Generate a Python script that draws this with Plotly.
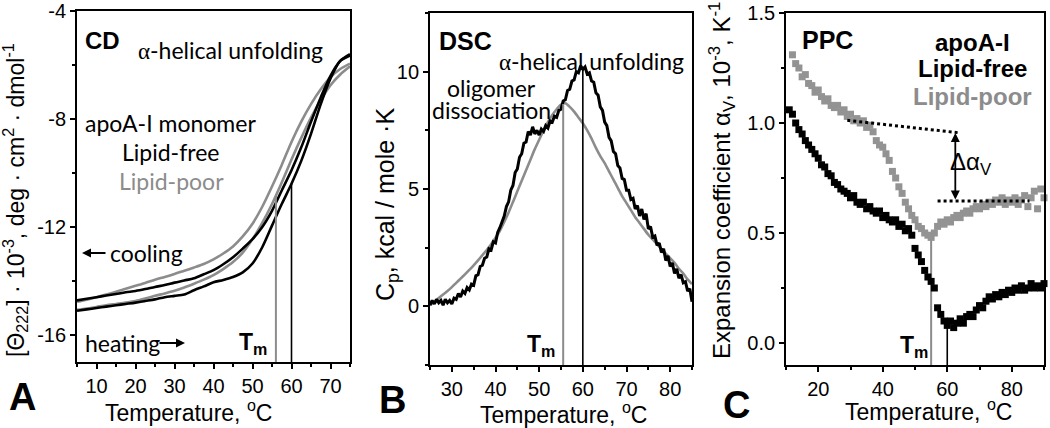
import numpy as np
import plotly.graph_objects as go

W, H = 1050, 428

# ---------------- Panel A: CD melting (theta_222 x 10^-3) ----------------
CD_T = [5, 7.5, 10, 12.5, 15, 17.5, 20, 22.5, 25, 27.5, 30, 32.5, 35, 37.5, 40,
        42.5, 45, 47.5, 50, 52.5, 55, 57.5, 60, 62.5, 65, 67.5, 70, 72.5, 75]
CD_POOR_COOL = [-14.77, -14.69, -14.60, -14.50, -14.40, -14.29, -14.18, -14.07, -13.95, -13.85,
                -13.74, -13.62, -13.50, -13.37, -13.20, -12.98, -12.72, -12.35, -11.88, -11.25,
                -10.50, -9.70, -8.85, -8.10, -7.45, -6.90, -6.45, -6.15, -5.95]
CD_FREE_COOL = [-14.72, -14.66, -14.60, -14.54, -14.48, -14.42, -14.37, -14.30, -14.22, -14.15,
                -14.06, -13.98, -13.90, -13.75, -13.60, -13.38, -13.12, -12.80, -12.45, -12.00,
                -11.40, -10.65, -9.90, -9.05, -8.10, -7.20, -6.40, -5.85, -5.60]
CD_POOR_HEAT = [-15.07, -15.02, -14.96, -14.90, -14.85, -14.80, -14.74, -14.65, -14.55, -14.46,
                -14.36, -14.24, -14.10, -13.95, -13.78, -13.56, -13.30, -12.95, -12.45, -11.85,
                -11.15, -10.35, -9.50, -8.70, -7.95, -7.30, -6.75, -6.35, -6.05]
CD_FREE_HEAT = [-15.10, -15.05, -15.00, -14.95, -14.90, -14.85, -14.80, -14.74, -14.68, -14.60,
                -14.55, -14.50, -14.34, -14.20, -14.05, -13.96, -13.85, -13.68, -13.35, -12.75,
                -11.95, -11.15, -10.40, -9.55, -8.55, -7.45, -6.50, -5.85, -5.65]
CD_TM = {"poor": 56, "free": 60}
CD_YTICKS = [-4, -8, -12, -16]

# ---------------- Panel B: DSC ----------------
DSC_T_FREE = [25.0, 25.5, 26.0, 26.5, 27.0, 27.5, 28.0, 28.5, 29.0, 29.5, 30.0, 30.5, 31.0, 31.5,
              32.0, 32.5, 33.0, 33.5, 34.0, 34.5, 35.0, 35.5, 36.0, 36.5, 37.0, 37.5, 38.0, 38.5,
              39.0, 39.5, 40.0, 40.5, 41.0, 41.5, 42.0, 42.5, 43.0, 43.5, 44.0, 44.5, 45.0, 45.5,
              46.0, 46.5, 47.0, 47.5, 48.0, 48.5, 49.0, 49.5, 50.0, 50.5, 51.0, 51.5, 52.0, 52.5,
              53.0, 53.5, 54.0, 54.5, 55.0, 55.5, 56.0, 56.5, 57.0, 57.5, 58.0, 58.5, 59.0, 59.5,
              60.0, 60.5, 61.0, 61.5, 62.0, 62.5, 63.0, 63.5, 64.0, 64.5, 65.0, 65.5, 66.0, 66.5,
              67.0, 67.5, 68.0, 68.5, 69.0, 69.5, 70.0, 70.5, 71.0, 71.5, 72.0, 72.5, 73.0, 73.5,
              74.0, 74.5, 75.0, 75.5, 76.0, 76.5, 77.0, 77.5, 78.0, 78.5, 79.0, 79.5, 80.0, 80.5,
              81.0, 81.5, 82.0, 82.5, 83.0, 83.5, 84.0, 84.5, 85.0]
DSC_FREE = [0.05, 0.25, 0.10, 0.30, 0.15, 0.25, 0.05, 0.30, 0.15, 0.25, 0.10, 0.35, 0.30, 0.55,
            0.40, 0.65, 0.55, 0.80, 0.70, 0.95, 0.90, 1.30, 1.35, 1.70, 1.75, 2.05, 2.10, 2.45,
            2.40, 2.75, 2.70, 3.15, 3.35, 3.60, 3.85, 4.25, 4.45, 4.95, 5.15, 5.70, 5.85, 6.35,
            6.50, 6.95, 7.00, 7.45, 7.30, 7.65, 7.35, 7.50, 7.30, 7.55, 7.45, 7.70, 7.60, 7.90,
            7.85, 8.10, 8.05, 8.35, 8.40, 8.75, 8.80, 9.20, 9.25, 9.60, 9.65, 10.00, 9.95, 10.25,
            10.10, 10.20, 9.90, 9.95, 9.60, 9.55, 9.10, 9.00, 8.50, 8.35, 7.85, 7.70, 7.20, 7.05,
            6.60, 6.50, 6.00, 5.90, 5.45, 5.40, 4.95, 4.95, 4.55, 4.60, 4.15, 4.30, 3.85, 4.15,
            3.70, 3.95, 3.30, 3.40, 2.95, 3.00, 2.60, 2.70, 2.30, 2.45, 1.95, 2.15, 1.70, 1.85,
            1.40, 1.60, 1.20, 1.35, 1.00, 1.05, 0.65, 0.75, 0.20]
DSC_T_POOR = [25, 26, 27, 28, 29, 30, 31, 32, 33, 34, 35, 36, 37, 38, 39, 40, 41, 42, 43, 44, 45,
              46, 47, 48, 49, 50, 51, 52, 53, 54, 55, 56, 57, 58, 59, 60, 61, 62, 63, 64, 65, 66,
              67, 68, 69, 70, 71, 72, 73, 74, 75, 76, 77, 78, 79, 80, 81, 82, 83, 84, 85]
DSC_POOR = [0.05, 0.20, 0.35, 0.50, 0.65, 0.82, 1.00, 1.18, 1.36, 1.55, 1.75, 1.96, 2.18, 2.40,
            2.65, 2.92, 3.22, 3.60, 4.00, 4.45, 4.90, 5.35, 5.80, 6.25, 6.70, 7.10, 7.50, 7.85,
            8.15, 8.40, 8.60, 8.65, 8.50, 8.30, 8.05, 7.80, 7.50, 7.15, 6.75, 6.40, 6.10, 5.75,
            5.40, 5.05, 4.70, 4.40, 4.10, 3.80, 3.55, 3.30, 3.05, 2.85, 2.65, 2.45, 2.25, 2.05,
            1.85, 1.60, 1.40, 1.15, 0.95]
DSC_TM = {"poor": 55.5, "free": 60}

# ---------------- Panel C: PPC ----------------
PPC_T_POOR = [12, 13, 14, 15, 16, 17, 18, 19, 20, 21, 22, 23, 24, 25, 26, 27, 28, 29, 30, 31, 32,
              33, 34, 35, 36, 37, 38, 39, 40, 41, 42, 43, 44, 45, 46, 47, 48, 49, 50, 51, 52, 53,
              54, 55, 56, 57, 58, 59, 60, 61, 62, 63, 64, 65, 66, 67, 68, 69, 70, 71, 72, 73, 74,
              75, 76, 77, 78, 79, 80, 81, 82, 83, 84, 85, 86, 87, 88, 89, 90]
PPC_POOR = [1.31, 1.27, 1.25, 1.21, 1.22, 1.18, 1.17, 1.14, 1.15, 1.12, 1.10, 1.11, 1.08, 1.07,
            1.08, 1.05, 1.06, 1.03, 1.04, 1.01, 1.02, 1.00, 1.01, 0.98, 0.99, 0.96, 0.92, 0.90,
            0.89, 0.86, 0.83, 0.78, 0.75, 0.71, 0.68, 0.64, 0.61, 0.58, 0.56, 0.53, 0.52, 0.50,
            0.49, 0.48, 0.50, 0.53, 0.55, 0.54, 0.56, 0.55, 0.57, 0.58, 0.57, 0.59, 0.60, 0.59,
            0.61, 0.62, 0.61, 0.63, 0.62, 0.64, 0.63, 0.65, 0.64, 0.66, 0.63, 0.65, 0.64, 0.66,
            0.63, 0.65, 0.67, 0.62, 0.66, 0.69, 0.61, 0.70, 0.66]
PPC_T_FREE = [11, 12, 13, 14, 15, 16, 17, 18, 19, 20, 21, 22, 23, 24, 25, 26, 27, 28, 29, 30, 31,
              32, 33, 34, 35, 36, 37, 38, 39, 40, 41, 42, 43, 44, 45, 46, 47, 48, 49, 50, 51, 52,
              53, 54, 55, 56, 57, 58, 59, 60, 61, 62, 63, 64, 65, 66, 67, 68, 69, 70, 71, 72, 73,
              74, 75, 76, 77, 78, 79, 80, 81, 82, 83, 84, 85, 86, 87, 88, 89, 90]
PPC_FREE = [1.06, 1.04, 1.00, 0.97, 0.95, 0.92, 0.90, 0.88, 0.86, 0.84, 0.81, 0.80, 0.77, 0.76,
            0.73, 0.72, 0.70, 0.69, 0.68, 0.66, 0.67, 0.64, 0.63, 0.64, 0.61, 0.62, 0.60, 0.59,
            0.60, 0.57, 0.58, 0.56, 0.55, 0.56, 0.53, 0.54, 0.51, 0.52, 0.49, 0.43, 0.40, 0.37,
            0.33, 0.30, 0.28, 0.25, 0.16, 0.13, 0.10, 0.08, 0.10, 0.07, 0.09, 0.11, 0.09, 0.12,
            0.13, 0.12, 0.15, 0.17, 0.16, 0.19, 0.21, 0.20, 0.22, 0.21, 0.23, 0.22, 0.24, 0.23,
            0.25, 0.24, 0.26, 0.24, 0.25, 0.27, 0.25, 0.26, 0.25, 0.27]
PPC_TM = {"poor": 55, "free": 60}
PPC_BASE_NATIVE_T = [29, 64]
PPC_BASE_NATIVE = [1.012, 0.955]
PPC_BASE_UNFOLD_T = [57, 85.5]
PPC_BASE_UNFOLD = [0.645, 0.645]
PPC_DELTA_T = 62.5

BLACK = "#000000"
GRAY = "#8c8c8c"
GRAY_MK = "#939393"
SANS = "Liberation Sans"
HUM = "Lato"


def px(x):
    return x / W


def py(y):
    return 1 - y / H


fig = go.Figure()

# Panel A curves
for ys, col in [(CD_POOR_COOL, GRAY), (CD_POOR_HEAT, GRAY), (CD_FREE_COOL, BLACK), (CD_FREE_HEAT, BLACK)]:
    fig.add_trace(go.Scatter(x=CD_T, y=ys, mode="lines", xaxis="x", yaxis="y",
                             line=dict(color=col, width=2.6, shape="spline", smoothing=0.8),
                             showlegend=False, hoverinfo="skip"))
for key, col, curve, w in [("poor", GRAY, CD_POOR_HEAT, 2.0), ("free", BLACK, CD_FREE_HEAT, 1.6)]:
    tm = CD_TM[key]
    top = float(np.interp(tm, CD_T, curve))
    fig.add_trace(go.Scatter(x=[tm, tm], y=[-17, top], mode="lines", xaxis="x", yaxis="y",
                             line=dict(color=col, width=w), showlegend=False, hoverinfo="skip"))

# Panel B curves
fig.add_trace(go.Scatter(x=DSC_T_POOR, y=DSC_POOR, mode="lines", xaxis="x2", yaxis="y2",
                         line=dict(color=GRAY, width=2.6, shape="spline", smoothing=0.6),
                         showlegend=False, hoverinfo="skip"))
fig.add_trace(go.Scatter(x=DSC_T_FREE, y=DSC_FREE, mode="lines", xaxis="x2", yaxis="y2",
                         line=dict(color=BLACK, width=3), showlegend=False, hoverinfo="skip"))
for key, col, tt, curve, w in [("poor", GRAY, DSC_T_POOR, DSC_POOR, 2.0), ("free", BLACK, DSC_T_FREE, DSC_FREE, 1.6)]:
    tm = DSC_TM[key]
    top = float(np.interp(tm, tt, curve))
    fig.add_trace(go.Scatter(x=[tm, tm], y=[-2.5, top], mode="lines", xaxis="x2", yaxis="y2",
                             line=dict(color=col, width=w), showlegend=False, hoverinfo="skip"))

# Panel C
for key, col, tt, curve, w in [("poor", GRAY, PPC_T_POOR, PPC_POOR, 2.0), ("free", BLACK, PPC_T_FREE, PPC_FREE, 1.6)]:
    tm = PPC_TM[key]
    top = float(np.interp(tm, tt, curve))
    fig.add_trace(go.Scatter(x=[tm, tm], y=[-0.1, top], mode="lines", xaxis="x3", yaxis="y3",
                             line=dict(color=col, width=w), showlegend=False, hoverinfo="skip"))
fig.add_trace(go.Scatter(x=PPC_T_POOR, y=PPC_POOR, mode="markers", xaxis="x3", yaxis="y3",
                         marker=dict(symbol="square", size=7, color=GRAY_MK, line=dict(width=0)),
                         cliponaxis=False, showlegend=False, hoverinfo="skip"))
fig.add_trace(go.Scatter(x=PPC_T_FREE, y=PPC_FREE, mode="markers", xaxis="x3", yaxis="y3",
                         marker=dict(symbol="square", size=7, color=BLACK, line=dict(width=0)),
                         cliponaxis=False, showlegend=False, hoverinfo="skip"))
for tt, vv in [(PPC_BASE_NATIVE_T, PPC_BASE_NATIVE), (PPC_BASE_UNFOLD_T, PPC_BASE_UNFOLD)]:
    fig.add_trace(go.Scatter(x=tt, y=vv, mode="lines", xaxis="x3", yaxis="y3",
                             line=dict(color=BLACK, width=3, dash="dot"),
                             showlegend=False, hoverinfo="skip"))


def axis(rng, domain, anchor, tick0, dtick, mtick0, mdtick, fmt=None, tickvals=None, ticktext=None):
    d = dict(range=rng, domain=domain, anchor=anchor, showline=True, linecolor=BLACK, linewidth=1.8,
             mirror=True, ticks="outside", ticklen=5, tickwidth=1.5, tickcolor=BLACK,
             showgrid=False, zeroline=False, automargin=False,
             tickfont=dict(family=SANS, size=20, color=BLACK),
             minor=dict(tickmode="linear", tick0=mtick0, dtick=mdtick, ticks="outside",
                        ticklen=3.5, tickwidth=1.5, tickcolor=BLACK, showgrid=False))
    if tickvals is not None:
        d.update(tickmode="array", tickvals=tickvals, ticktext=ticktext)
    else:
        d.update(tickmode="linear", tick0=tick0, dtick=dtick)
    if fmt:
        d["tickformat"] = fmt
    return d


yA = [py(362), py(11)]
yBC = [py(365), py(13)]
fig.update_layout(
    template="none",
    width=W, height=H, margin=dict(l=0, r=0, t=0, b=0, pad=0, autoexpand=False),
    paper_bgcolor="white", plot_bgcolor="white", showlegend=False,
    xaxis=axis([5, 75], [px(77), px(350)], "y", 10, 10, 5, 5),
    yaxis=axis([-17, -4], yA, "x", None, None, -4, 2,
               tickvals=CD_YTICKS, ticktext=[str(v) for v in CD_YTICKS]),
    xaxis2=axis([25, 85], [px(430), px(692)], "y2", 30, 10, 25, 5),
    yaxis2=axis([-2.5, 12.5], yBC, "x2", 0, 5, 0, 2.5),
    xaxis3=axis([10, 90], [px(786), px(1044)], "y3", 20, 20, 10, 10),
    yaxis3=axis([-0.1, 1.5], yBC, "x3", 0, 0.5, 0, 0.25, fmt=".1f"),
)

ann = []


def text(x, y, s, size, family=SANS, color=BLACK, xanchor="center", angle=0):
    ann.append(dict(x=px(x), y=py(y), xref="paper", yref="paper", text=s, showarrow=False,
                    xanchor=xanchor, yanchor="middle", textangle=angle,
                    font=dict(family=family, size=size, color=color)))


ALPHA = "<span style='font-family:Liberation Serif'>α</span>"

# Panel A text
text(83, 40, "<b>CD</b>", 24, xanchor="left")
text(230, 50, ALPHA + "-helical unfolding", 23, HUM)
text(170, 123, "apoA-I monomer", 23, HUM)
text(170, 152, "Lipid-free", 23, HUM)
text(171, 181, "Lipid-poor", 23, HUM, GRAY)
text(108, 253, "cooling", 23, HUM, xanchor="left")
text(83, 343, "heating", 23, HUM, xanchor="left")
text(253, 343, "<b>T<sub>m</sub></b>", 23)
text(22, 397, "<b>A</b>", 38)
text(15, 200, "[Θ<sub>222</sub>] · 10<sup>-3</sup>, deg · cm<sup>2</sup> · dmol<sup>-1</sup>", 23, angle=-90)
text(188, 411, "Temperature, <sup>o</sup>C", 23)

# Panel B text
text(437, 41, "<b>DSC</b>", 25, xanchor="left")
text(591, 61, ALPHA + "-helical unfolding", 23, HUM)
text(491, 88, "oligomer", 23, HUM)
text(491, 110, "dissociation", 23, HUM)
text(541, 345, "<b>T<sub>m</sub></b>", 23)
text(392, 400, "<b>B</b>", 38)
text(387, 205, "C<sub>p</sub>, kcal / mole ·K", 25, angle=-90)
text(563, 413, "Temperature, <sup>o</sup>C", 23)

# Panel C text
text(800, 40, "<b>PPC</b>", 25, xanchor="left")
text(972, 43, "<b>apoA-I</b>", 24)
text(972, 68, "<b>Lipid-free</b>", 24)
text(972, 97, "<b>Lipid-poor</b>", 24, color=GRAY)
text(971, 163, "Δα<sub>V</sub>", 24)
text(914, 346, "<b>T<sub>m</sub></b>", 23)
text(736, 405, "<b>C</b>", 38)
text(722, 181, "Expansion coefficient α<sub>V</sub>, 10<sup>-3</sup>, K<sup>-1</sup>", 24, angle=-90)
text(928, 410, "Temperature, <sup>o</sup>C", 23)

# arrows (cooling / heating)
ann.append(dict(x=px(82), y=py(253), xref="paper", yref="paper", ax=25, ay=0, text="",
                showarrow=True, arrowhead=2, arrowsize=1, arrowwidth=1.8, arrowcolor=BLACK))
ann.append(dict(x=px(185), y=py(343), xref="paper", yref="paper", ax=-27, ay=0, text="",
                showarrow=True, arrowhead=2, arrowsize=1, arrowwidth=1.8, arrowcolor=BLACK))
# delta alpha double arrow
ann.append(dict(x=PPC_DELTA_T, y=PPC_BASE_NATIVE[1], xref="x3", yref="y3",
                ax=PPC_DELTA_T, ay=PPC_BASE_UNFOLD[0], axref="x3", ayref="y3", text="",
                showarrow=True, arrowhead=2, startarrowhead=2, arrowside="end+start",
                arrowsize=1, arrowwidth=1.8, arrowcolor=BLACK))

fig.update_layout(annotations=ann)
fig.write_html("out.html", config={"displayModeBar": False},
               post_script="document.body.style.margin='0px';")
